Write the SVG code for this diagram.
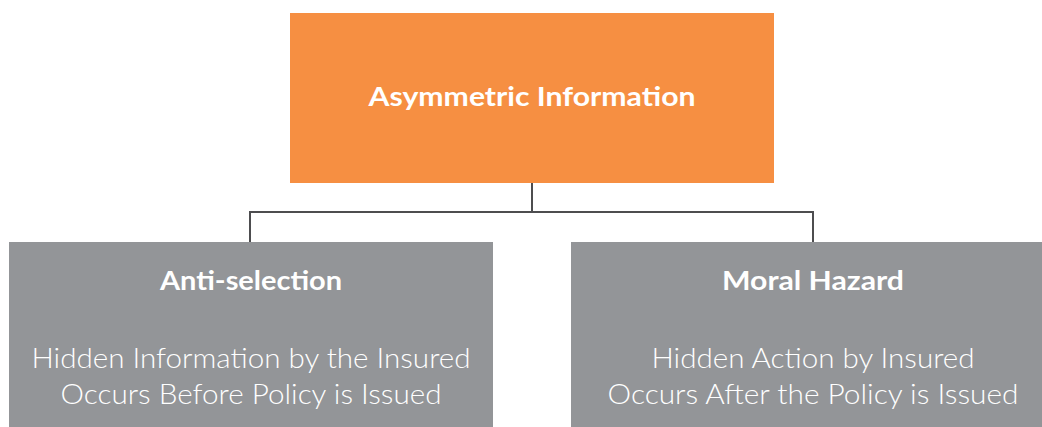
<svg xmlns="http://www.w3.org/2000/svg" width="1042" height="427" viewBox="0 0 1042 427">
<style>
.conn{fill:none;stroke:#4d4d4f;stroke-width:2}
.top{fill:#f68f42}
.sub{fill:#939598}
.h{font-family:Lato,"Open Sans","Liberation Sans",sans-serif;font-weight:bold;fill:#fff;text-anchor:middle;font-size:27px}
.b{font-family:Lato,"Open Sans","Liberation Sans",sans-serif;font-weight:300;fill:#fff;text-anchor:middle;font-size:27px}
</style>
<rect width="1042" height="427" fill="#fff"/>
<g id="connectors">
<path class="conn" d="M532 183V212M250 212H813M250 211V242M813 211V242"/>
</g>
<g id="asymmetric">
<rect class="top" x="290" y="13" width="484" height="170"/>
<text class="h" x="532" y="106" textLength="327" lengthAdjust="spacingAndGlyphs">Asymmetric Information</text>
</g>
<g id="antiselection">
<rect class="sub" x="9" y="242" width="484" height="185"/>
<text class="h" x="251" y="290" textLength="182" lengthAdjust="spacingAndGlyphs">Anti-selection</text>
<text class="b" x="251" y="368" textLength="439" lengthAdjust="spacingAndGlyphs">Hidden Information by the Insured</text>
<text class="b" x="251" y="404" textLength="381" lengthAdjust="spacingAndGlyphs">Occurs Before Policy is Issued</text>
</g>
<g id="moralhazard">
<rect class="sub" x="571" y="242" width="484" height="185"/>
<text class="h" x="813" y="290" textLength="182" lengthAdjust="spacingAndGlyphs">Moral Hazard</text>
<text class="b" x="813" y="368" textLength="323" lengthAdjust="spacingAndGlyphs">Hidden Action by Insured</text>
<text class="b" x="813" y="404" textLength="411" lengthAdjust="spacingAndGlyphs">Occurs After the Policy is Issued</text>
</g>
</svg>
